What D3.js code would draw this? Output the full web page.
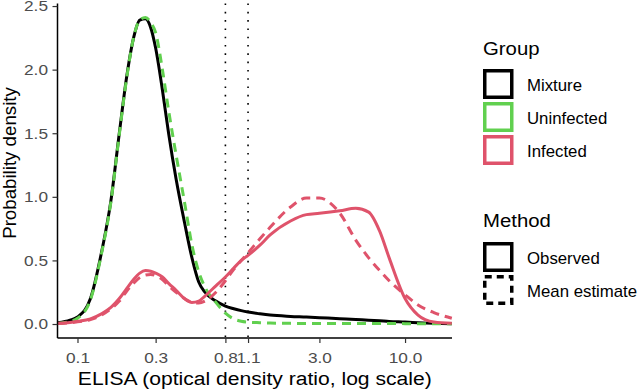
<!DOCTYPE html>
<html>
<head>
<meta charset="utf-8">
<script src="https://cdn.jsdelivr.net/npm/d3@7"></script>
<style>
  body { margin: 0; background: #fff; }
  svg { display: block; font-family: "Liberation Sans", Arial, sans-serif; }
</style>
</head>
<body>
<svg id="chart" width="640" height="390"></svg>
<script>
// ELISA density curves
var odRatio = [0.076, 0.09, 0.1, 0.12, 0.14, 0.16, 0.18, 0.2, 0.22, 0.24, 0.26, 0.28, 0.3, 0.33, 0.36, 0.4, 0.45, 0.5, 0.55, 0.6, 0.7, 0.8, 0.9, 1.0, 1.1, 1.3, 1.5, 2, 2.5, 3, 4, 5, 6, 7, 8, 10, 12, 15, 19.3];

var mixtureObserved = [0.01, 0.03, 0.055, 0.2, 0.56, 0.97, 1.5, 1.95, 2.25, 2.39, 2.4, 2.33, 2.17, 1.84, 1.5, 1.14, 0.8, 0.52, 0.33, 0.25, 0.18, 0.14, 0.12, 0.105, 0.094, 0.08, 0.07, 0.06, 0.055, 0.05, 0.042, 0.035, 0.03, 0.025, 0.02, 0.015, 0.01, 0.005, 0.002];

var uninfectedMean = [0.004, 0.02, 0.045, 0.19, 0.55, 0.96, 1.49, 1.94, 2.25, 2.39, 2.41, 2.37, 2.29, 2.0, 1.68, 1.33, 0.96, 0.62, 0.41, 0.29, 0.17, 0.085, 0.04, 0.022, 0.015, 0.01, 0.007, 0.005, 0.004, 0.004, 0.004, 0.004, 0.004, 0.004, 0.004, 0.003, 0.003, 0.003, 0.003];

var infectedObserved = [0.005, 0.012, 0.02, 0.04, 0.08, 0.13, 0.2, 0.28, 0.35, 0.4, 0.42, 0.415, 0.4, 0.37, 0.32, 0.265, 0.2, 0.17, 0.18, 0.22, 0.3, 0.37, 0.44, 0.5, 0.54, 0.62, 0.7, 0.81, 0.86, 0.87, 0.89, 0.91, 0.88, 0.73, 0.52, 0.2, 0.07, 0.015, 0.005];

var infectedMean = [0.004, 0.01, 0.017, 0.035, 0.07, 0.12, 0.18, 0.26, 0.32, 0.365, 0.385, 0.39, 0.38, 0.35, 0.3, 0.25, 0.2, 0.17, 0.165, 0.18, 0.25, 0.34, 0.43, 0.5, 0.56, 0.67, 0.76, 0.92, 0.99, 0.99, 0.87, 0.66, 0.52, 0.42, 0.34, 0.23, 0.15, 0.09, 0.045];

var cutoffs = [0.8, 1.1];
var xTicks = [0.1, 0.3, 0.8, 1.1, 3.0, 10.0];
var yTicks = [0, 0.5, 1.0, 1.5, 2.0, 2.5];

var groupNames = ['Mixture', 'Uninfected', 'Infected'];
var groupColors = ['#000000', '#61D04F', '#DF536B'];
var methodNames = ['Observed', 'Mean estimate'];

var svg = d3.select("#chart");

var padLeft = 57.5, padRight = 452, padTop = 3.5, padBottom = 338;

var x = d3.scaleLog().domain([0.0755, 19.35]).range([padLeft, padRight]);
var y = d3.scaleLinear().domain([-0.11, 2.52]).range([padBottom, padTop]);

var dashed = "9,6";

// text in the reference is a bit wider than the font, so stretch it sideways
function placeText(sel, px, py, stretch) {
  return sel.attr("transform", "translate(" + px + "," + py + ") scale(" + stretch + ",1)");
}

// dotted cut-off lines
svg.selectAll(".cutoff")
  .data(cutoffs)
  .enter().append("line")
  .attr("x1", function(d) { return x(d); })
  .attr("x2", function(d) { return x(d); })
  .attr("y1", padTop)
  .attr("y2", padBottom)
  .attr("stroke", "#000")
  .attr("stroke-width", 1.6)
  .attr("stroke-dasharray", "1.6,6.7");

var line = d3.line()
  .x(function(d) { return x(d[0]); })
  .y(function(d) { return y(d[1]); })
  .curve(d3.curveMonotoneX);

function drawCurve(values, color, dash) {
  svg.append("path")
    .attr("d", line(d3.zip(odRatio, values)))
    .attr("fill", "none")
    .attr("stroke", color)
    .attr("stroke-width", 3)
    .attr("stroke-dasharray", dash)
    .attr("stroke-linejoin", "round");
}

drawCurve(mixtureObserved, groupColors[0], null);
drawCurve(uninfectedMean, groupColors[1], dashed);
drawCurve(infectedObserved, groupColors[2], null);
drawCurve(infectedMean, groupColors[2], dashed);

// axes
var tickStretch = 1.15;
var xAxis = svg.append("g")
  .attr("transform", "translate(0," + padBottom + ")")
  .call(d3.axisBottom(x).tickValues(xTicks).tickFormat(d3.format(".1f")).tickSizeOuter(0).tickSize(5).tickPadding(9));
var yAxis = svg.append("g")
  .attr("transform", "translate(" + padLeft + ",0)")
  .call(d3.axisLeft(y).tickValues(yTicks).tickFormat(d3.format(".1f")).tickSizeOuter(0).tickSize(5).tickPadding(4.5));

xAxis.select(".domain").attr("d", "M" + padLeft + ",0H" + padRight);
yAxis.select(".domain").attr("d", "M0," + padBottom + "V" + padTop);

[xAxis, yAxis].forEach(function(ax) {
  ax.select(".domain").attr("stroke", "#000").attr("stroke-width", 1.5);
  ax.selectAll(".tick line").attr("stroke", "#333").attr("stroke-width", 1.2);
  ax.selectAll(".tick text")
    .style("font-size", "15px")
    .style("font-family", "Liberation Sans, Arial, sans-serif")
    .attr("fill", "#4D4D4D")
    .attr("x", function() { return +d3.select(this).attr("x") / tickStretch; })
    .attr("transform", "scale(" + tickStretch + ",1)");
});

placeText(svg.append("text"), (padLeft + padRight) / 2, 385, 1.11)
  .attr("text-anchor", "middle")
  .style("font-size", "19px")
  .text("ELISA (optical density ratio, log scale)");

svg.append("text")
  .attr("transform", "translate(16,163) rotate(-90)")
  .attr("text-anchor", "middle")
  .style("font-size", "18.7px")
  .text("Probability density");

// legends
var legX = 483;

placeText(svg.append("text"), legX, 55, 1.1)
  .style("font-size", "18.5px")
  .text("Group");

groupNames.forEach(function(name, i) {
  var ky = 69 + i * 33;
  svg.append("rect")
    .attr("x", legX + 1.75).attr("y", ky + 1.75)
    .attr("width", 27).attr("height", 26.5)
    .attr("fill", "none")
    .attr("stroke", groupColors[i])
    .attr("stroke-width", 3.5);
  placeText(svg.append("text"), legX + 44, ky + 22, 1.05)
    .style("font-size", "16px")
    .text(name);
});

placeText(svg.append("text"), legX, 226.5, 1.1)
  .style("font-size", "18.5px")
  .text("Method");

methodNames.forEach(function(name, i) {
  var ky = 242 + i * 33;
  svg.append("rect")
    .attr("x", legX + 1.75).attr("y", ky + 1.75)
    .attr("width", 27).attr("height", 26.5)
    .attr("fill", "none")
    .attr("stroke", "#000")
    .attr("stroke-width", 3.5)
    .attr("stroke-dasharray", i === 1 ? "7,5" : null);
  placeText(svg.append("text"), legX + 44, ky + 22, 1.05)
    .style("font-size", "16px")
    .text(name);
});
</script>
</body>
</html>
